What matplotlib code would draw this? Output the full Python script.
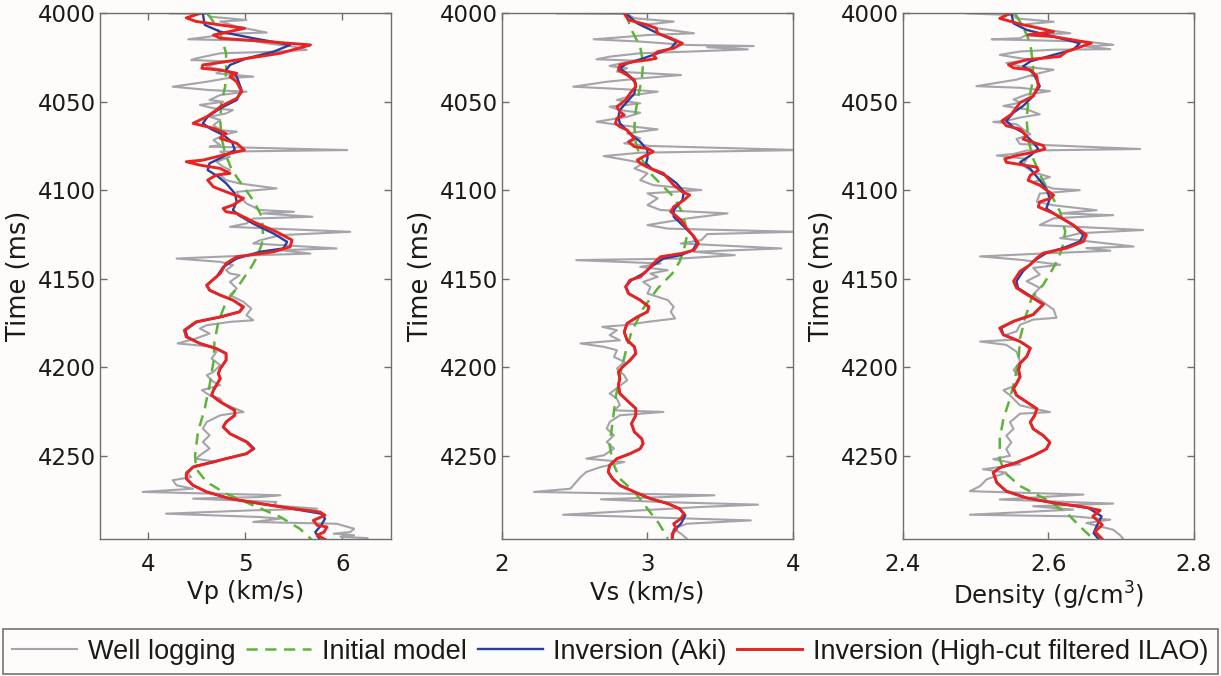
import matplotlib
matplotlib.use("Agg")
import matplotlib.pyplot as plt
from matplotlib.lines import Line2D
import numpy as np

# ---- Vp panel: (time ms, Vp km/s) ----
vp_well = [
    (4000.0, 4.22), (4000.3, 4.60), (4001.8, 4.63), (4003.7, 5.01), (4004.6, 4.74), (4007.4, 4.91),
    (4010.8, 5.22), (4011.6, 4.74), (4013.1, 4.63), (4014.6, 4.41), (4015.4, 5.08), (4016.9, 5.22),
    (4018.8, 5.50), (4020.6, 5.63), (4021.6, 5.32), (4022.5, 4.74), (4025.4, 4.49), (4026.3, 4.44),
    (4027.2, 4.84), (4028.2, 4.70), (4030.1, 4.60), (4032.0, 4.77), (4033.8, 4.70), (4035.7, 5.08),
    (4036.7, 4.80), (4038.6, 4.60), (4041.4, 4.25), (4043.3, 4.63), (4044.2, 5.01), (4046.1, 4.74),
    (4048.9, 4.63), (4049.9, 4.77), (4051.7, 4.53), (4053.6, 4.67), (4054.6, 4.87), (4056.5, 4.80),
    (4058.4, 4.63), (4060.2, 4.74), (4063.1, 4.67), (4065.9, 4.74), (4066.8, 4.91), (4068.7, 4.77),
    (4071.6, 4.67), (4074.4, 4.74), (4075.3, 4.63), (4077.2, 6.05), (4078.1, 4.74), (4081.0, 4.84),
    (4083.8, 4.70), (4086.6, 4.77), (4088.5, 4.84), (4091.3, 4.74), (4094.2, 4.80), (4096.1, 4.94),
    (4098.9, 5.32), (4100.8, 4.91), (4103.6, 4.94), (4107.4, 5.01), (4111.1, 5.15), (4112.1, 5.50),
    (4113.0, 5.18), (4114.9, 5.69), (4115.9, 5.08), (4118.7, 5.01), (4120.6, 4.84), (4123.4, 6.08),
    (4125.3, 5.36), (4128.2, 5.15), (4130.0, 5.08), (4132.8, 5.94), (4133.8, 5.36), (4135.7, 5.67),
    (4136.6, 5.12), (4138.5, 4.29), (4140.4, 4.74), (4142.2, 4.87), (4145.1, 4.80), (4147.0, 4.84),
    (4147.9, 4.94), (4151.7, 4.84), (4155.4, 4.91), (4159.2, 4.84), (4163.0, 4.98), (4166.8, 5.06),
    (4170.5, 5.01), (4173.4, 5.08), (4174.3, 4.84), (4176.2, 4.60), (4178.1, 4.53), (4180.9, 4.63),
    (4183.7, 4.49), (4186.5, 4.30), (4188.4, 4.67), (4191.3, 4.70), (4195.0, 4.65), (4198.8, 4.74),
    (4202.6, 4.67), (4204.5, 4.60), (4208.2, 4.67), (4210.1, 4.74), (4212.9, 4.55), (4215.8, 4.63),
    (4217.7, 4.74), (4220.5, 4.77), (4225.2, 4.98), (4227.1, 4.74), (4230.9, 4.60), (4234.6, 4.56),
    (4238.4, 4.63), (4242.2, 4.56), (4245.9, 4.63), (4249.7, 4.53), (4251.6, 4.49), (4253.5, 4.70),
    (4255.4, 4.49), (4259.1, 4.39), (4262.0, 4.44), (4263.8, 4.25), (4266.7, 4.29), (4268.6, 4.46),
    (4270.4, 3.94), (4272.3, 5.36), (4273.3, 5.15), (4274.2, 4.46), (4276.1, 5.32), (4278.0, 5.29),
    (4279.9, 5.74), (4280.8, 5.08), (4282.7, 4.18), (4284.6, 5.15), (4285.5, 5.36), (4287.4, 5.08),
    (4288.4, 5.94), (4291.2, 6.12), (4293.1, 6.08), (4294.0, 5.91), (4294.9, 6.12), (4295.8, 5.98),
    (4296.5, 6.26), (4297.8, 6.19),
]
vp_init = [
    (4000.0, 4.61), (4005.6, 4.68), (4013.1, 4.75), (4022.5, 4.80), (4032.0, 4.80), (4041.4, 4.79),
    (4050.8, 4.75), (4060.3, 4.74), (4069.7, 4.75), (4079.1, 4.79), (4088.5, 4.86), (4098.0, 4.98),
    (4105.6, 5.08), (4114.9, 5.17), (4124.3, 5.18), (4130.0, 5.17), (4137.5, 5.12), (4143.3, 5.06),
    (4148.9, 4.99), (4155.4, 4.91), (4163.0, 4.80), (4174.3, 4.72), (4185.6, 4.68), (4196.9, 4.67),
    (4210.1, 4.63), (4223.3, 4.58), (4236.5, 4.51), (4249.7, 4.48), (4257.3, 4.49), (4264.8, 4.60),
    (4271.4, 4.80), (4278.0, 5.08), (4284.6, 5.36), (4291.2, 5.56), (4297.8, 5.69),
]
vp_aki = [
    (4000.0, 4.56), (4006.5, 4.58), (4010.3, 4.74), (4014.0, 5.08), (4017.8, 5.46), (4021.6, 5.29),
    (4025.4, 5.01), (4029.1, 4.84), (4032.0, 4.80), (4035.7, 4.91), (4043.3, 4.96), (4048.9, 4.91),
    (4053.6, 4.74), (4058.4, 4.61), (4062.1, 4.56), (4064.9, 4.63), (4068.7, 4.77), (4072.5, 4.86),
    (4077.2, 4.89), (4081.0, 4.77), (4084.7, 4.63), (4088.5, 4.61), (4092.3, 4.72), (4096.0, 4.80),
    (4101.7, 4.89), (4106.4, 4.91), (4111.1, 4.87), (4114.0, 4.93), (4118.8, 5.08), (4124.4, 5.29),
    (4129.1, 5.43), (4132.8, 5.39), (4134.7, 5.15), (4138.5, 4.91), (4143.3, 4.77), (4149.0, 4.70),
    (4153.6, 4.60), (4156.4, 4.63), (4159.2, 4.74), (4162.0, 4.87), (4165.8, 4.97), (4168.6, 4.94),
    (4171.5, 4.75), (4174.3, 4.50), (4179.0, 4.38), (4182.8, 4.40), (4186.5, 4.53), (4189.4, 4.70),
    (4192.2, 4.80), (4196.0, 4.80), (4200.7, 4.74), (4203.5, 4.72), (4206.3, 4.74), (4208.2, 4.72),
    (4212.9, 4.67), (4215.8, 4.65), (4219.5, 4.74), (4224.3, 4.89), (4227.1, 4.89), (4230.9, 4.80),
    (4233.7, 4.77), (4237.5, 4.84), (4242.2, 5.02), (4246.0, 5.09), (4248.8, 5.01), (4251.6, 4.80),
    (4254.4, 4.60), (4256.3, 4.46), (4260.1, 4.39), (4262.9, 4.39), (4266.7, 4.46), (4270.4, 4.60),
    (4274.2, 4.84), (4277.0, 5.15), (4279.9, 5.48), (4282.7, 5.78), (4285.5, 5.82), (4289.3, 5.78),
    (4293.1, 5.72), (4297.8, 5.77),
]
vp_ilao = [
    (4000.0, 4.53), (4002.5, 4.39), (4004.5, 4.49), (4006.5, 4.74), (4008.4, 4.99), (4012.2, 4.67),
    (4014.0, 4.74), (4016.0, 5.25), (4017.8, 5.67), (4022.5, 5.36), (4026.3, 4.91), (4029.1, 4.56),
    (4031.0, 4.55), (4032.0, 4.74), (4033.8, 4.91), (4035.7, 4.84), (4038.6, 4.91), (4044.2, 4.96),
    (4048.0, 4.91), (4052.7, 4.74), (4054.6, 4.70), (4058.4, 4.60), (4062.1, 4.46), (4064.9, 4.67),
    (4067.8, 4.80), (4070.6, 4.74), (4073.4, 4.91), (4077.2, 4.99), (4079.1, 4.84), (4082.9, 4.56),
    (4083.8, 4.39), (4085.7, 4.53), (4087.6, 4.74), (4090.4, 4.84), (4091.3, 4.70), (4094.2, 4.61),
    (4098.0, 4.67), (4100.8, 4.80), (4104.5, 4.98), (4108.3, 4.87), (4110.2, 4.77), (4112.1, 4.80),
    (4113.0, 4.91), (4117.7, 5.08), (4123.4, 5.32), (4128.1, 5.48), (4131.9, 5.46), (4134.7, 5.29),
    (4137.5, 4.91), (4141.3, 4.80), (4146.9, 4.74), (4153.6, 4.60), (4156.4, 4.63), (4159.2, 4.74),
    (4162.0, 4.87), (4165.8, 4.98), (4168.6, 4.94), (4171.5, 4.74), (4174.3, 4.49), (4179.0, 4.37),
    (4182.8, 4.39), (4186.5, 4.53), (4189.4, 4.70), (4192.2, 4.80), (4196.0, 4.80), (4200.7, 4.74),
    (4203.5, 4.72), (4206.3, 4.74), (4208.2, 4.72), (4212.9, 4.67), (4215.8, 4.65), (4219.5, 4.74),
    (4224.3, 4.89), (4227.1, 4.89), (4230.9, 4.80), (4233.7, 4.77), (4237.5, 4.84), (4242.2, 5.01),
    (4246.0, 5.08), (4248.8, 5.01), (4251.6, 4.80), (4254.4, 4.60), (4256.3, 4.46), (4260.1, 4.39),
    (4262.9, 4.39), (4266.7, 4.46), (4270.4, 4.60), (4274.2, 4.84), (4277.0, 5.15), (4279.9, 5.50),
    (4281.8, 5.77), (4283.6, 5.82), (4286.5, 5.70), (4289.3, 5.74), (4290.2, 5.84), (4293.1, 5.81),
    (4294.9, 5.74), (4297.8, 5.84),
]

# ---- Vs panel: (time ms, Vs km/s) ----
vs_well = [
    (4000.0, 2.38), (4000.3, 2.86), (4002.7, 2.91), (4004.6, 3.18), (4006.5, 2.97), (4008.4, 3.07),
    (4011.2, 3.32), (4012.2, 3.00), (4013.5, 2.81), (4014.6, 2.63), (4015.9, 2.95), (4017.8, 3.27),
    (4018.4, 3.73), (4019.1, 3.41), (4020.3, 3.69), (4021.6, 3.27), (4022.5, 2.95), (4024.4, 2.74),
    (4025.9, 2.65), (4026.7, 2.93), (4027.8, 2.84), (4029.7, 2.74), (4031.0, 2.86), (4032.9, 2.79),
    (4034.8, 3.23), (4036.7, 2.95), (4038.6, 2.72), (4041.4, 2.49), (4042.9, 2.86), (4044.2, 3.07),
    (4046.1, 2.91), (4048.9, 2.79), (4050.8, 2.95), (4052.7, 2.74), (4054.6, 2.81), (4056.1, 2.95),
    (4058.4, 2.86), (4061.2, 2.65), (4063.1, 2.81), (4065.5, 3.07), (4067.8, 2.86), (4070.6, 2.95),
    (4073.4, 2.84), (4074.9, 3.02), (4077.2, 4.05), (4078.7, 2.95), (4080.6, 2.70), (4082.9, 2.86),
    (4084.7, 2.97), (4087.6, 2.91), (4090.4, 3.00), (4094.2, 2.95), (4097.0, 3.04), (4099.8, 3.37),
    (4101.7, 3.00), (4104.5, 3.07), (4108.3, 3.00), (4111.1, 3.09), (4113.0, 3.55), (4115.9, 3.27),
    (4119.6, 3.00), (4121.6, 3.14), (4123.4, 4.02), (4124.7, 3.41), (4128.1, 3.37), (4130.0, 3.23),
    (4132.8, 3.92), (4134.7, 3.32), (4136.6, 3.60), (4138.5, 3.23), (4139.4, 2.51), (4141.3, 3.09),
    (4143.2, 2.95), (4145.1, 3.14), (4147.0, 3.02), (4148.9, 3.07), (4151.7, 2.97), (4154.5, 3.02),
    (4158.3, 3.00), (4162.0, 3.14), (4165.8, 3.18), (4168.6, 3.16), (4172.4, 3.19), (4174.3, 3.00),
    (4176.2, 2.84), (4177.1, 2.69), (4179.0, 2.79), (4181.8, 2.74), (4184.7, 2.81), (4185.6, 2.68),
    (4186.5, 2.54), (4188.4, 2.70), (4190.3, 2.79), (4194.1, 2.77), (4196.9, 2.84), (4200.7, 2.79),
    (4204.5, 2.84), (4207.3, 2.86), (4211.1, 2.80), (4214.8, 2.74), (4217.7, 2.79), (4221.4, 2.81),
    (4224.3, 2.77), (4225.2, 3.11), (4227.1, 2.81), (4230.9, 2.74), (4234.6, 2.72), (4238.4, 2.77),
    (4242.2, 2.72), (4245.9, 2.77), (4249.7, 2.70), (4251.6, 2.58), (4253.5, 2.84), (4256.3, 2.68),
    (4259.1, 2.58), (4262.0, 2.54), (4264.8, 2.51), (4268.6, 2.47), (4270.4, 2.22), (4272.3, 3.46),
    (4274.6, 2.68), (4276.1, 3.09), (4277.6, 3.76), (4278.9, 3.37), (4283.3, 2.42), (4286.5, 3.71),
    (4288.4, 3.27), (4291.2, 3.18), (4294.0, 3.23), (4296.8, 3.27),
]
vs_init = [
    (4000.0, 2.85), (4009.3, 2.89), (4018.8, 2.95), (4028.2, 2.97), (4037.6, 2.96), (4045.2, 2.94),
    (4054.6, 2.92), (4064.0, 2.91), (4073.4, 2.92), (4081.0, 2.95), (4090.4, 3.02), (4098.0, 3.11),
    (4103.6, 3.18), (4111.1, 3.23), (4118.7, 3.26), (4126.2, 3.27), (4133.8, 3.25), (4140.4, 3.22),
    (4147.0, 3.17), (4155.4, 3.07), (4166.8, 2.97), (4180.0, 2.89), (4191.3, 2.85), (4204.5, 2.81),
    (4217.7, 2.78), (4230.9, 2.76), (4244.1, 2.74), (4253.5, 2.76), (4262.9, 2.81), (4270.4, 2.91),
    (4279.9, 3.00), (4288.4, 3.08), (4296.8, 3.14),
]
vs_aki = [
    (4000.0, 2.85), (4005.6, 2.93), (4011.2, 3.07), (4015.9, 3.20), (4019.7, 3.16), (4022.5, 3.07),
    (4025.4, 2.97), (4028.2, 2.86), (4031.0, 2.81), (4034.8, 2.87), (4039.5, 2.92), (4045.2, 2.91),
    (4049.9, 2.86), (4054.6, 2.81), (4058.4, 2.80), (4062.1, 2.81), (4067.8, 2.88), (4072.5, 2.95),
    (4077.2, 3.00), (4081.9, 3.00), (4084.7, 2.99), (4088.5, 3.04), (4092.3, 3.14), (4096.0, 3.20),
    (4100.8, 3.25), (4105.5, 3.24), (4111.1, 3.18), (4114.9, 3.18), (4119.6, 3.24), (4125.3, 3.31),
    (4130.0, 3.34), (4133.8, 3.31), (4136.6, 3.23), (4138.5, 3.11), (4142.3, 3.04), (4147.0, 2.97),
    (4150.7, 2.89), (4154.5, 2.85), (4158.3, 2.87), (4162.0, 2.95), (4165.8, 3.01), (4168.6, 3.00),
    (4171.5, 2.93), (4175.2, 2.86), (4180.0, 2.84), (4184.7, 2.86), (4188.4, 2.91), (4192.2, 2.92),
    (4196.0, 2.88), (4199.7, 2.83), (4202.6, 2.80), (4206.3, 2.81), (4210.1, 2.80), (4214.8, 2.81),
    (4219.5, 2.87), (4223.3, 2.92), (4227.1, 2.92), (4231.8, 2.89), (4236.5, 2.91), (4240.3, 2.96),
    (4243.1, 2.97), (4246.0, 2.95), (4248.8, 2.88), (4251.6, 2.79), (4255.4, 2.74), (4259.1, 2.73),
    (4262.9, 2.76), (4266.7, 2.81), (4270.4, 2.91), (4274.2, 3.02), (4277.0, 3.14), (4279.9, 3.22),
    (4283.6, 3.26), (4288.4, 3.23), (4292.1, 3.18), (4297.8, 3.17),
]
vs_ilao = [
    (4000.0, 2.84), (4003.7, 2.87), (4006.5, 3.00), (4008.4, 3.06), (4011.2, 3.07), (4014.0, 3.16),
    (4016.9, 3.24), (4019.7, 3.18), (4021.6, 3.07), (4023.5, 3.04), (4025.4, 3.06), (4026.3, 3.00),
    (4027.2, 2.91), (4029.1, 2.81), (4032.0, 2.80), (4034.8, 2.86), (4037.6, 2.91), (4041.4, 2.92),
    (4045.2, 2.88), (4048.9, 2.85), (4052.7, 2.79), (4055.5, 2.81), (4057.4, 2.84), (4059.3, 2.79),
    (4062.1, 2.78), (4064.0, 2.81), (4065.9, 2.86), (4068.7, 2.89), (4070.6, 2.91), (4072.5, 2.87),
    (4075.3, 2.91), (4076.3, 3.00), (4078.1, 3.04), (4081.0, 2.97), (4082.9, 2.93), (4084.7, 2.95),
    (4087.6, 3.02), (4090.4, 3.11), (4093.2, 3.14), (4097.0, 3.18), (4100.8, 3.24), (4102.6, 3.29),
    (4105.5, 3.25), (4109.3, 3.18), (4112.1, 3.16), (4114.0, 3.19), (4116.8, 3.23), (4121.5, 3.27),
    (4126.2, 3.32), (4130.0, 3.35), (4133.8, 3.32), (4135.7, 3.23), (4137.5, 3.09), (4141.3, 3.04),
    (4145.1, 3.00), (4148.9, 2.95), (4150.7, 2.88), (4154.5, 2.85), (4158.3, 2.87), (4162.0, 2.95),
    (4165.8, 3.01), (4168.6, 3.00), (4171.5, 2.93), (4175.2, 2.86), (4180.0, 2.84), (4184.7, 2.86),
    (4188.4, 2.91), (4192.2, 2.92), (4196.0, 2.88), (4199.7, 2.83), (4202.6, 2.80), (4206.3, 2.81),
    (4210.1, 2.80), (4214.8, 2.81), (4219.5, 2.87), (4223.3, 2.92), (4227.1, 2.92), (4231.8, 2.89),
    (4236.5, 2.91), (4240.3, 2.96), (4243.1, 2.97), (4246.0, 2.95), (4248.8, 2.88), (4251.6, 2.79),
    (4255.4, 2.74), (4259.1, 2.73), (4262.9, 2.76), (4266.7, 2.81), (4270.4, 2.91), (4274.2, 3.02),
    (4277.0, 3.14), (4279.9, 3.22), (4282.7, 3.25), (4285.5, 3.23), (4288.4, 3.18), (4291.2, 3.20),
    (4294.0, 3.17), (4297.8, 3.17),
]

# ---- Density panel: (time ms, density g/cm3) ----
rho_well = [
    (4000.0, 2.488), (4000.9, 2.552), (4002.8, 2.556), (4004.7, 2.607), (4006.0, 2.570), (4008.4, 2.584),
    (4011.2, 2.630), (4012.1, 2.570), (4014.0, 2.561), (4014.6, 2.522), (4015.9, 2.652), (4017.7, 2.689),
    (4018.7, 2.652), (4020.2, 2.685), (4020.5, 2.607), (4021.5, 2.561), (4023.4, 2.533), (4024.7, 2.552),
    (4026.2, 2.575), (4028.0, 2.542), (4029.9, 2.561), (4031.8, 2.607), (4034.6, 2.579), (4037.4, 2.556),
    (4041.1, 2.501), (4042.0, 2.561), (4043.9, 2.602), (4045.8, 2.570), (4048.6, 2.552), (4050.4, 2.561),
    (4052.3, 2.538), (4054.2, 2.570), (4057.0, 2.588), (4058.8, 2.561), (4060.7, 2.542), (4061.3, 2.524),
    (4062.6, 2.556), (4065.4, 2.565), (4068.2, 2.575), (4071.0, 2.556), (4073.8, 2.561), (4076.6, 2.726),
    (4077.5, 2.570), (4079.4, 2.552), (4080.3, 2.529), (4082.2, 2.570), (4085.9, 2.565), (4089.7, 2.579),
    (4092.5, 2.602), (4095.3, 2.579), (4099.0, 2.607), (4099.9, 2.643), (4101.8, 2.588), (4106.5, 2.584),
    (4108.4, 2.607), (4111.2, 2.666), (4113.0, 2.616), (4114.0, 2.689), (4115.8, 2.607), (4119.6, 2.588),
    (4122.4, 2.730), (4124.2, 2.643), (4127.0, 2.616), (4131.7, 2.717), (4132.6, 2.652), (4134.1, 2.685),
    (4135.4, 2.607), (4137.3, 2.506), (4139.2, 2.561), (4142.0, 2.616), (4143.8, 2.579), (4147.6, 2.588),
    (4151.3, 2.570), (4155.1, 2.588), (4158.8, 2.579), (4164.4, 2.597), (4167.3, 2.607), (4172.0, 2.611),
    (4173.0, 2.579), (4175.9, 2.561), (4179.7, 2.556), (4181.6, 2.542), (4184.4, 2.552), (4185.4, 2.506),
    (4187.3, 2.542), (4191.1, 2.556), (4196.8, 2.561), (4201.5, 2.552), (4205.3, 2.561), (4210.1, 2.556),
    (4212.9, 2.538), (4215.8, 2.547), (4221.5, 2.561), (4225.3, 2.602), (4226.2, 2.561), (4231.0, 2.547),
    (4234.8, 2.552), (4238.6, 2.542), (4242.4, 2.549), (4246.2, 2.542), (4250.0, 2.547), (4251.9, 2.524),
    (4254.8, 2.561), (4257.6, 2.510), (4259.5, 2.542), (4263.3, 2.515), (4267.1, 2.506), (4270.0, 2.492),
    (4271.9, 2.648), (4274.7, 2.533), (4277.0, 2.689), (4278.5, 2.579), (4280.4, 2.634), (4283.3, 2.492),
    (4284.2, 2.634), (4286.1, 2.685), (4288.0, 2.652), (4291.8, 2.689), (4294.7, 2.698), (4297.1, 2.703),
]
rho_init = [
    (4000.0, 2.554), (4007.5, 2.565), (4016.8, 2.575), (4029.9, 2.579), (4041.1, 2.577), (4050.4, 2.572),
    (4059.8, 2.570), (4071.0, 2.572), (4082.2, 2.579), (4093.4, 2.591), (4102.7, 2.604), (4112.1, 2.616),
    (4123.3, 2.623), (4130.8, 2.620), (4138.2, 2.614), (4145.7, 2.604), (4153.2, 2.593), (4160.6, 2.577),
    (4172.0, 2.568), (4183.5, 2.561), (4194.9, 2.559), (4206.3, 2.554), (4217.7, 2.547), (4229.1, 2.538),
    (4240.5, 2.533), (4251.9, 2.533), (4259.5, 2.540), (4267.1, 2.561), (4274.7, 2.597), (4282.3, 2.625),
    (4291.8, 2.648), (4297.1, 2.662),
]
rho_aki = [
    (4000.0, 2.549), (4005.6, 2.552), (4009.3, 2.570), (4013.1, 2.607), (4016.8, 2.643), (4020.5, 2.634),
    (4023.4, 2.607), (4027.1, 2.575), (4029.9, 2.565), (4033.6, 2.579), (4041.1, 2.588), (4046.7, 2.579),
    (4052.3, 2.565), (4056.0, 2.552), (4060.7, 2.542), (4064.4, 2.552), (4067.3, 2.565), (4072.9, 2.579),
    (4076.6, 2.586), (4080.3, 2.575), (4084.1, 2.561), (4087.8, 2.575), (4094.3, 2.588), (4099.0, 2.597),
    (4104.6, 2.602), (4110.2, 2.597), (4114.0, 2.611), (4119.6, 2.634), (4125.2, 2.648), (4128.9, 2.643),
    (4132.6, 2.620), (4135.4, 2.597), (4140.1, 2.579), (4145.7, 2.565), (4151.3, 2.556), (4155.1, 2.558),
    (4158.8, 2.572), (4164.4, 2.593), (4170.2, 2.579), (4174.0, 2.552), (4177.8, 2.535), (4181.6, 2.538),
    (4185.4, 2.561), (4189.2, 2.575), (4193.9, 2.570), (4197.7, 2.561), (4201.5, 2.559), (4205.3, 2.561),
    (4209.1, 2.556), (4212.0, 2.552), (4215.8, 2.556), (4219.6, 2.570), (4223.4, 2.584), (4227.2, 2.581),
    (4231.0, 2.575), (4234.8, 2.579), (4238.6, 2.593), (4242.4, 2.602), (4246.2, 2.597), (4250.0, 2.579),
    (4253.8, 2.556), (4256.7, 2.533), (4259.5, 2.524), (4265.2, 2.529), (4270.0, 2.542), (4273.8, 2.570),
    (4276.6, 2.607), (4279.5, 2.655), (4284.2, 2.673), (4289.9, 2.666), (4293.7, 2.662), (4297.1, 2.669),
]
rho_ilao = [
    (4000.0, 2.547), (4002.8, 2.533), (4006.0, 2.561), (4008.4, 2.588), (4010.3, 2.607), (4012.1, 2.572),
    (4013.1, 2.607), (4016.8, 2.659), (4021.5, 2.625), (4024.3, 2.616), (4026.2, 2.570), (4029.0, 2.545),
    (4030.8, 2.552), (4031.8, 2.575), (4035.5, 2.584), (4041.1, 2.586), (4046.7, 2.579), (4050.4, 2.561),
    (4053.2, 2.556), (4057.0, 2.549), (4060.7, 2.536), (4063.5, 2.542), (4065.4, 2.561), (4069.1, 2.570),
    (4071.0, 2.565), (4072.9, 2.579), (4074.7, 2.593), (4076.6, 2.595), (4078.5, 2.579), (4080.3, 2.556),
    (4082.2, 2.540), (4084.1, 2.542), (4086.9, 2.584), (4088.7, 2.586), (4091.5, 2.575), (4094.3, 2.572),
    (4097.1, 2.588), (4102.7, 2.607), (4104.6, 2.602), (4106.5, 2.588), (4109.3, 2.586), (4113.0, 2.607),
    (4119.6, 2.634), (4125.2, 2.652), (4128.9, 2.648), (4132.6, 2.625), (4135.4, 2.593), (4138.2, 2.584),
    (4142.0, 2.575), (4145.7, 2.561), (4151.3, 2.552), (4155.1, 2.556), (4158.8, 2.570), (4164.4, 2.593),
    (4170.2, 2.579), (4174.0, 2.552), (4177.8, 2.533), (4181.6, 2.538), (4185.4, 2.561), (4189.2, 2.575),
    (4193.9, 2.570), (4197.7, 2.561), (4201.5, 2.559), (4205.3, 2.561), (4209.1, 2.556), (4212.0, 2.552),
    (4215.8, 2.556), (4219.6, 2.570), (4223.4, 2.584), (4227.2, 2.581), (4231.0, 2.575), (4234.8, 2.579),
    (4238.6, 2.593), (4242.4, 2.602), (4246.2, 2.597), (4250.0, 2.579), (4253.8, 2.556), (4256.7, 2.533),
    (4259.5, 2.524), (4265.2, 2.529), (4270.0, 2.542), (4273.8, 2.570), (4276.6, 2.607), (4278.5, 2.643),
    (4280.8, 2.671), (4284.2, 2.661), (4289.0, 2.674), (4292.8, 2.664), (4297.1, 2.674),
]

panels = [
    ("Vp (km/s)", (3.5, 6.5), [4, 5, 6], ["4", "5", "6"], vp_well, vp_init, vp_aki, vp_ilao),
    ("Vs (km/s)", (2.0, 4.0), [2, 3, 4], ["2", "3", "4"], vs_well, vs_init, vs_aki, vs_ilao),
    ("Density (g/cm$^3$)", (2.4, 2.8), [2.4, 2.6, 2.8], ["2.4", "2.6", "2.8"],
     rho_well, rho_init, rho_aki, rho_ilao),
]
time_ticks = [4000, 4050, 4100, 4150, 4200, 4250]

GREY = '#a4a4aa'
GREEN = '#5cb53a'
BLUE = '#2a3f9c'
RED = '#e92222'
SPINE = '#6e6e6e'

fig = plt.figure(figsize=(12.21, 6.76), dpi=100, facecolor='#fdfcfa')
lefts = [100 / 1221, 502 / 1221, 903 / 1221]

for left, (xlab, xlim, xt, xtl, well, init, aki, ilao) in zip(lefts, panels):
    ax = fig.add_axes([left, 0.2027, 0.2383, 0.7774], facecolor='#fdfcfa')
    for data, kw in [(well, dict(color=GREY, lw=1.5)),
                     (init, dict(color=GREEN, lw=1.8, dashes=(4.5, 3))),
                     (aki, dict(color=BLUE, lw=1.7)),
                     (ilao, dict(color=RED, lw=2.1))]:
        arr = np.array(data)
        ax.plot(arr[:, 1], arr[:, 0], solid_joinstyle='round', **kw)
    ax.set_xlim(*xlim)
    ax.set_ylim(4297, 4000)
    ax.set_xticks(xt)
    ax.set_xticklabels(xtl)
    ax.set_yticks(time_ticks)
    ax.tick_params(direction='in', top=True, right=True, length=5, width=1,
                   color=SPINE, labelsize=16.5, labelcolor='#1a1a1a', pad=3)
    ax.tick_params(axis='x', pad=10)
    for sp in ax.spines.values():
        sp.set_color(SPINE)
        sp.set_linewidth(1.0)
    ax.set_xlabel(xlab, fontsize=17.5, labelpad=3, color='#1a1a1a')
    ax.set_ylabel("Time (ms)", fontsize=18.5, labelpad=4, color='#1a1a1a')

handles = [
    Line2D([], [], color=GREY, lw=1.5),
    Line2D([], [], color=GREEN, lw=1.8, dashes=(4.5, 3)),
    Line2D([], [], color=BLUE, lw=1.7),
    Line2D([], [], color=RED, lw=2.1),
]
labels = ["Well logging", "Initial model", "Inversion (Aki)", "Inversion (High-cut filtered ILAO)"]
leg = fig.legend(handles, labels, loc='lower left', ncol=4, mode='expand',
                 bbox_to_anchor=(3 / 1221, 2 / 676, 1215 / 1221, 46 / 676),
                 borderaxespad=0, frameon=True, fancybox=False, handlelength=2.4,
                 handletextpad=0.4, borderpad=0.35,
                 prop={'family': ['Liberation Sans', 'DejaVu Sans'], 'size': 19.5})
for txt in leg.get_texts():
    txt.set_color('#1a1a1a')
leg.get_frame().set_edgecolor('#505050')
leg.get_frame().set_linewidth(1.2)
leg.get_frame().set_facecolor('#fdfcfa')

fig.savefig('out.png', dpi=100, facecolor=fig.get_facecolor())
